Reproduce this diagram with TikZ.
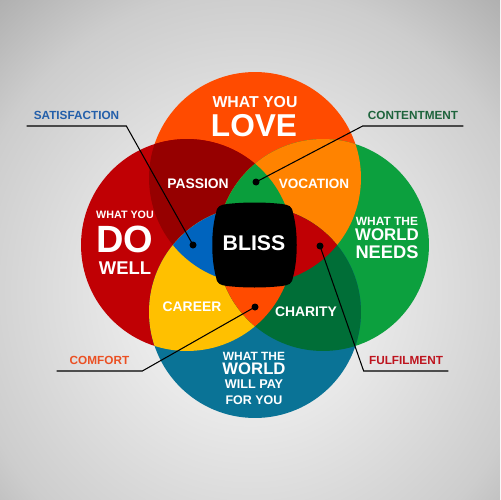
\documentclass[tikz,border=0pt]{standalone}
\usepackage{fontspec}
\setmainfont{Liberation Sans}
\usepackage{tikz}

\definecolor{colLove}{RGB}{255,75,0}
\definecolor{colWell}{RGB}{192,0,4}
\definecolor{colNeeds}{RGB}{12,160,62}
\definecolor{colPay}{RGB}{10,115,150}
\definecolor{colPassion}{RGB}{150,0,0}
\definecolor{colVocation}{RGB}{255,131,0}
\definecolor{colCareer}{RGB}{255,192,0}
\definecolor{colCharity}{RGB}{0,110,55}
\definecolor{colContent}{RGB}{10,158,60}
\definecolor{colSatis}{RGB}{0,100,190}
\definecolor{colFulfil}{RGB}{192,0,4}
\definecolor{colComfort}{RGB}{255,75,0}
\definecolor{txtSat}{RGB}{35,95,170}
\definecolor{txtCont}{RGB}{30,100,60}
\definecolor{txtComf}{RGB}{235,80,35}
\definecolor{txtFul}{RGB}{190,20,30}
\definecolor{bgIn}{RGB}{238,238,238}
\definecolor{bgMid}{RGB}{205,205,205}
\definecolor{bgOut}{RGB}{162,162,162}

\pgfdeclareradialshading{bgshade}{\pgfpoint{0bp}{0bp}}{color(0bp)=(bgIn); color(8bp)=(bgIn); color(25bp)=(bgMid); color(36bp)=(bgOut); color(50bp)=(bgOut)}

\newcommand{\fsz}[1]{\fontsize{#1}{#1}\selectfont\bfseries}
% the four circles
\newcommand{\cLove}{(255,178) circle (2.12cm)}
\newcommand{\cWell}{(187,245) circle (2.12cm)}
\newcommand{\cNeeds}{(323,245) circle (2.12cm)}
\newcommand{\cPay}{(255,312) circle (2.12cm)}

\begin{document}
\begin{tikzpicture}[x=0.02cm, y=-0.02cm,
    every node/.style={inner sep=0pt},
    wt/.style={text=white, font=\fsz{#1}},
    callout/.style={font=\fsz{6.7}, inner xsep=0pt, inner ysep=3.3pt, anchor=south},
    leader/.style={black, line width=0.6pt},
    dot/.style={circle, fill=black, minimum size=0.14cm}]
    \useasboundingbox (0,0) rectangle (500,500);
    % --- Background ---
    \begin{scope}
        \clip (0,0) rectangle (500,500);
        \shade[shading=bgshade] (-40,-10) rectangle (540,590);
    \end{scope}

    % --- Circles ---
    \fill[colLove] \cLove;
    \fill[colWell] \cWell;
    \fill[colNeeds] \cNeeds;
    \fill[colPay] \cPay;

    % --- Overlaps of two ---
    \begin{scope}
        \clip \cLove;
        \fill[colPassion] \cWell;
        \fill[colVocation] \cNeeds;
    \end{scope}
    \begin{scope}
        \clip \cPay;
        \fill[colCareer] \cWell;
        \fill[colCharity] \cNeeds;
    \end{scope}

    % --- Overlaps of three ---
    \begin{scope}
        \clip \cLove; \clip \cWell;
        \fill[colContent] \cNeeds;
        \fill[colSatis] \cPay;
    \end{scope}
    \begin{scope}
        \clip \cLove; \clip \cNeeds;
        \fill[colFulfil] \cPay;
    \end{scope}
    \begin{scope}
        \clip \cPay; \clip \cWell;
        \fill[colComfort] \cNeeds;
    \end{scope}

    % --- Centre ---
    \fill[black] (216,213) .. controls (217,206) and (220,205) .. (227,204)
        .. controls (245,202) and (264,202) .. (282,204)
        .. controls (289,205) and (292,206) .. (293,213)
        .. controls (298,231) and (298,259) .. (293,277)
        .. controls (292,284) and (289,285) .. (282,286)
        .. controls (264,288) and (245,288) .. (227,286)
        .. controls (220,285) and (217,284) .. (216,277)
        .. controls (211,259) and (211,231) .. (216,213) -- cycle;
    \node[wt=12.1] (bliss) at (254,243) {BLISS};

    % --- Circle texts ---
    \node[wt=9] (loveA) at (255,102) {WHAT YOU};
    \node[wt=18] (loveB) at (254,126) {LOVE};
    \node[wt=6.1] (wellA) at (125,215) {WHAT YOU};
    \node[wt=21.6] (wellB) at (125,239) {DO};
    \node[wt=10.5] (wellC) at (125,268) {WELL};
    \node[wt=6.8] (needsA) at (387,221) {WHAT THE};
    \node[wt=9.6] (needsB) at (387,235) {WORLD};
    \node[wt=10.4] (needsC) at (387,252) {NEEDS};
    \node[wt=6.8] (payA) at (254,356) {WHAT THE};
    \node[wt=9.5] (payB) at (254,369) {WORLD};
    \node[wt=7.2] (payC) at (254,384) {WILL PAY};
    \node[wt=7.1] (payD) at (254,400) {FOR YOU};

    % --- Overlap texts ---
    \node[wt=7.9] (passion) at (198,184) {PASSION};
    \node[wt=7.7] (vocation) at (314,184) {VOCATION};
    \node[wt=7.9] (career) at (192,307) {CAREER};
    \node[wt=7.9] (charity) at (306,312) {CHARITY};

    % --- Callouts ---
    \node[dot] (dSat) at (193,245) {};
    \node[dot] (dCont) at (256,182) {};
    \node[dot] (dComf) at (255,307) {};
    \node[dot] (dFul) at (320,246) {};
    \node[callout, text=txtSat, minimum width=1.98cm] (satisfaction) at (76.5,126) {SATISFACTION};
    \node[callout, text=txtCont, minimum width=2cm] (contentment) at (413,126) {CONTENTMENT};
    \node[callout, text=txtComf, minimum width=1.7cm] (comfort) at (99.5,371) {COMFORT};
    \node[callout, text=txtFul, minimum width=1.68cm] (fulfilment) at (406,371) {FULFILMENT};
    \draw[leader] (satisfaction.south west) -- (satisfaction.south east) -- (dSat.center);
    \draw[leader] (contentment.south east) -- (contentment.south west) -- (dCont.center);
    \draw[leader] (comfort.south west) -- (comfort.south east) -- (dComf.center);
    \draw[leader] (fulfilment.south east) -- (fulfilment.south west) -- (dFul.center);
\end{tikzpicture}
\end{document}
